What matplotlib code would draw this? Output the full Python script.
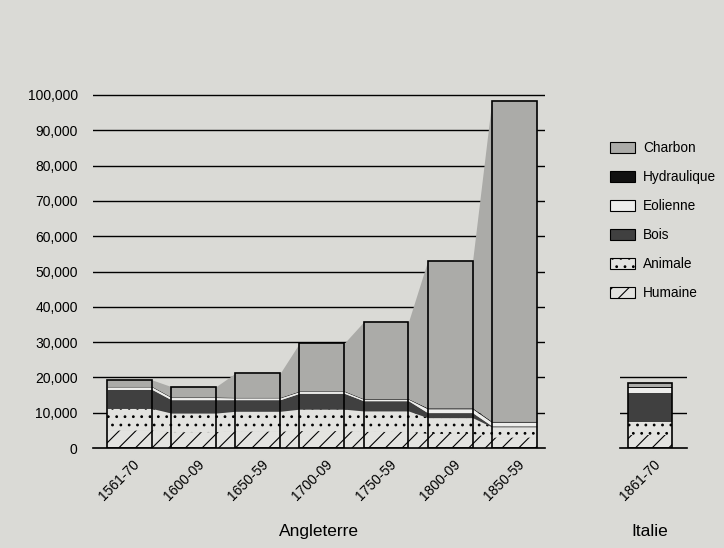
import numpy as np
import matplotlib
matplotlib.use("Agg")
from matplotlib import pyplot as plt
from matplotlib.patches import Patch
from matplotlib.transforms import ScaledTranslation

periods = ['1561-70', '1600-09', '1650-59', '1700-09', '1750-59', '1800-09', '1850-59']
humaine = [5000, 4500, 4700, 4800, 4600, 4000, 3000]
animale = [6200, 5400, 5700, 6200, 5900, 4600, 3000]
bois = [5400, 3800, 3300, 4500, 2900, 1400, 300]
eolienne = [700, 600, 500, 500, 400, 1100, 1000]
hydraulique = [200, 200, 200, 200, 200, 300, 300]
charbon = [1800, 2900, 6800, 13500, 21700, 41600, 90700]

italie_period = ['1861-70']
italie_humaine = [3600]
italie_animale = [3900]
italie_bois = [8000]
italie_eolienne = [1500]
italie_hydraulique = [300]
italie_charbon = [1200]

yticks = [0, 10000, 20000, 30000, 40000, 50000, 60000, 70000, 80000, 90000, 100000]
ytick_labels = ['0', '10,000', '20,000', '30,000', '40,000', '50,000', '60,000',
                '70,000', '80,000', '90,000', '100,000']

plt.rcParams['font.family'] = ['Liberation Sans', 'DejaVu Sans']
plt.rcParams['hatch.linewidth'] = 0.8

bg = '#dadad6'
styles = [
    # name, facecolor, hatch
    ('Humaine', '#e3e3e0', '//'),
    ('Animale', '#e3e3e0', '..'),
    ('Bois', '#404040', None),
    ('Eolienne', '#eeeeec', None),
    ('Hydraulique', '#111111', None),
    ('Charbon', '#ababa8', None),
]

W = 0.7
fig = plt.figure(figsize=(7.24, 5.48), dpi=100, facecolor=bg)


def draw_stack(ax, layers):
    n = len(layers[0])
    x = np.arange(n)
    xs = np.ravel([[i - W / 2, i + W / 2] for i in x])
    lower = np.zeros(2 * n)
    for (name, fc, hatch), vals in zip(styles, layers):
        upper = lower + np.repeat(vals, 2)
        ax.fill_between(xs, lower, upper, facecolor=fc, edgecolor='black',
                        hatch=hatch, linewidth=0, zorder=2)
        lower = upper
    ax.bar(x, lower[::2], width=W, fill=False, edgecolor='black',
           linewidth=1.2, zorder=3)
    return x


def style_axis(ax, x, labels):
    ax.set_facecolor('none')
    for s in ['top', 'right', 'left']:
        ax.spines[s].set_visible(False)
    ax.spines['bottom'].set_linewidth(1.2)
    ax.set_xticks(x)
    ax.set_xticklabels(labels, rotation=45, ha='right', va='center',
                       rotation_mode='anchor', fontsize=10)
    ax.tick_params(axis='x', length=0, pad=10)
    offset = ScaledTranslation(0.08, 0, fig.dpi_scale_trans)
    for lab in ax.get_xticklabels():
        lab.set_transform(lab.get_transform() + offset)


ytop = 100500
h = 353 / 548 * ytop / 100000

# Angleterre
ax = fig.add_axes([93 / 724, 1 - 448 / 548, 452 / 724, h])
x = draw_stack(ax, [humaine, animale, bois, eolienne, hydraulique, charbon])
for y in yticks[1:]:
    ax.axhline(y, color='black', linewidth=1, zorder=1)
ax.set_xlim(-0.57, 6.48)
ax.set_ylim(0, ytop)
ax.set_yticks(yticks)
ax.set_yticklabels(ytick_labels, fontsize=10)
ax.tick_params(axis='y', length=0, pad=11)
style_axis(ax, x, periods)
ax.text(0.5, -0.235, 'Angleterre', transform=ax.transAxes, ha='center',
        va='center', fontsize=12.5)

# Italie
ax2 = fig.add_axes([620 / 724, 1 - 448 / 548, 67 / 724, h])
x2 = draw_stack(ax2, [italie_humaine, italie_animale, italie_bois,
                      italie_eolienne, italie_hydraulique, italie_charbon])
for y in yticks[1:3]:
    ax2.axhline(y, color='black', linewidth=1, zorder=1)
ax2.set_xlim(-0.47, 0.58)
ax2.set_ylim(0, ytop)
ax2.set_yticks([])
style_axis(ax2, x2, italie_period)
ax2.text(0.45, -0.235, 'Italie', transform=ax2.transAxes, ha='center',
         va='center', fontsize=12.5)

handles = [Patch(facecolor=fc, edgecolor='black', hatch=hatch, linewidth=0.8, label=name)
           for name, fc, hatch in styles][::-1]
fig.legend(handles=handles, loc='upper left', bbox_to_anchor=(598 / 724, 1 - 129 / 548),
           frameon=False, fontsize=9.8, labelspacing=1.1, handlelength=1.8,
           handleheight=0.95, handletextpad=0.6)

plt.savefig('out.png', dpi=100, facecolor=bg)
